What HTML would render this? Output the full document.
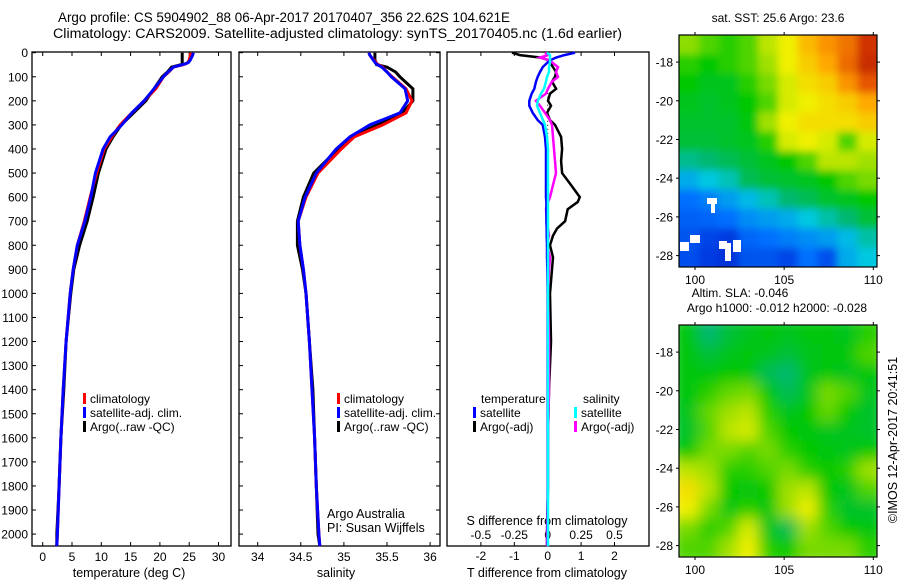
<!DOCTYPE html>
<html><head><meta charset="utf-8"><style>
html,body{margin:0;padding:0;background:#fff;}
svg{display:block;font-family:"Liberation Sans",sans-serif;}
text{fill:#000;}
</style></head><body>
<svg id="fig" width="900" height="580" viewBox="0 0 900 580">
<defs>
<filter id="blur" x="0" y="0" width="1" height="1"><feGaussianBlur stdDeviation="7"/></filter>
<filter id="blur1" x="0" y="0" width="1" height="1"><feGaussianBlur stdDeviation="4"/></filter>
<clipPath id="clipM2"><rect x="679" y="325" width="198" height="232"/></clipPath>
<clipPath id="clipM1"><rect x="679" y="35" width="198" height="232"/></clipPath>
</defs>
<g>
<text x="58" y="22" font-size="13.5" textLength="452" lengthAdjust="spacingAndGlyphs">Argo profile: CS 5904902_88 06-Apr-2017 20170407_356 22.62S 104.621E</text>
<text x="53" y="38" font-size="13.5" textLength="569" lengthAdjust="spacingAndGlyphs">Climatology: CARS2009. Satellite-adjusted climatology: synTS_20170405.nc (1.6d earlier)</text>
</g>
<g id="p1"></g>
<g id="p2"></g>
<g id="p3"></g>
<g id="m1"></g>
<g id="m2"></g>
<text x="0" y="0" font-size="12.5" transform="translate(897,440) rotate(-90)" text-anchor="middle">©IMOS 12-Apr-2017 20:41:51</text>
</svg>
<script>
// ---- data ----
const depths = [0,10,20,30,40,45,50,60,80,100,150,200,250,300,350,400,500,600,700,800,900,1000,1200,1400,1600,1800,2000,2050];
const tempClim = [25.2,25.2,25.1,25.0,24.8,24.5,24.0,22.3,21.5,20.6,19.3,17.3,15.2,13.2,11.8,10.5,9.2,8.1,7.1,5.9,5.2,4.7,4.0,3.5,3.1,2.8,2.5,2.4];
const tempSat = [25.7,25.6,25.4,25.2,24.9,24.5,23.8,22.3,21.4,20.6,19.0,17.3,15.2,13.5,11.5,10.3,9.0,8.2,7.2,5.9,5.2,4.7,4.0,3.5,3.1,2.8,2.5,2.4];
const tempArgo = [23.8,23.8,23.8,23.8,23.8,23.8,23.6,22.0,21.3,20.4,19.0,17.6,15.5,13.4,12.0,10.8,9.5,8.6,7.6,6.3,5.3,4.8,4.0,3.6,3.1,2.8,2.4,2.4];
const salClim = [35.29,35.3,35.32,35.35,35.37,35.38,35.4,35.45,35.5,35.56,35.72,35.79,35.72,35.45,35.12,34.97,34.7,34.56,34.47,34.49,34.53,34.56,34.6,34.63,34.66,34.68,34.71,34.72];
const salSat = [35.29,35.3,35.32,35.34,35.36,35.37,35.39,35.44,35.5,35.55,35.71,35.74,35.65,35.3,35.07,34.91,34.68,34.55,34.47,34.49,34.53,34.56,34.6,34.63,34.66,34.68,34.71,34.72];
const salArgo = [35.36,35.36,35.36,35.36,35.37,35.38,35.38,35.5,35.6,35.65,35.8,35.8,35.68,35.38,35.1,34.93,34.65,34.53,34.46,34.46,34.52,34.56,34.6,34.64,34.66,34.68,34.7,34.72];
const diffDepths = [0,10,20,30,40,60,80,100,120,150,170,200,220,250,280,300,350,400,450,500,550,600,620,650,700,730,760,800,850,900,1000,1200,1400,1600,1800,2000,2050];
const tDiffSat = [0.82,0.5,0.25,0.1,0.0,-0.15,-0.23,-0.3,-0.35,-0.4,-0.48,-0.55,-0.55,-0.45,-0.3,-0.15,-0.08,-0.05,-0.05,-0.05,-0.05,-0.05,-0.04,-0.04,-0.04,-0.03,-0.03,-0.02,-0.02,-0.01,0,0,0,0,0,0,0];
const tDiffArgo = [-1.07,-0.83,-0.23,0.01,0.07,0.16,0.25,0.22,0.13,0.25,0.07,0.01,0.1,-0.02,0.07,0.22,0.4,0.43,0.4,0.43,0.7,0.96,0.9,0.6,0.52,0.28,0.16,0.07,0.16,0.13,0.07,0.1,0.04,0.01,0.01,-0.02,-0.02];
const sDiffSat = [-0.005,0.017,0.017,0.017,0.017,0.01,0.01,-0.005,-0.013,-0.028,-0.05,-0.073,-0.08,-0.058,-0.035,-0.02,-0.005,0.002,0.002,0.002,0.002,0.002,0.002,0.002,0.002,0.002,0.002,0.002,0.002,0.002,0.002,0.002,0.002,0.002,0.002,0.002,0.002];
const sDiffArgo = [-0.02,0.002,-0.058,0.002,0.032,0.077,0.062,0.077,0.032,0.002,-0.013,-0.088,-0.058,-0.02,0.017,0.032,0.04,0.047,0.055,0.062,0.04,0.017,0.002,-0.013,-0.005,0.002,0.01,-0.005,0.017,0.01,0.002,0.01,0.01,0.002,0.002,-0.005,-0.005];
const depthTicks = [0,100,200,300,400,500,600,700,800,900,1000,1100,1200,1300,1400,1500,1600,1700,1800,1900,2000];
const tempTicks = [0,5,10,15,20,25,30];
const salTicks = [34,34.5,35,35.5,36];
const salTickLabels = ["34","34.5","35","35.5","36"];
const tDiffTicks = [-2,-1,0,1,2];
const sDiffTicks = [-0.5,-0.25,0,0.25,0.5];
const sDiffTickLabels = ["-0.5","-0.25","0","0.25","0.5"];
const mapLonTicks = [100,105,110];
const mapLatTicks = [-18,-20,-22,-24,-26,-28];
const sstGrid = [
[0.65,0.62,0.6,0.62,0.68,0.72,0.78,0.82,0.85,0.92],
[0.6,0.58,0.6,0.62,0.66,0.72,0.76,0.8,0.86,0.93],
[0.58,0.56,0.56,0.6,0.64,0.7,0.74,0.76,0.82,0.88],
[0.56,0.55,0.56,0.58,0.62,0.7,0.72,0.74,0.76,0.8],
[0.55,0.55,0.55,0.57,0.66,0.72,0.74,0.74,0.74,0.76],
[0.54,0.54,0.55,0.56,0.6,0.7,0.72,0.7,0.62,0.7],
[0.48,0.5,0.52,0.54,0.56,0.58,0.62,0.68,0.68,0.66],
[0.38,0.42,0.45,0.52,0.54,0.55,0.56,0.58,0.62,0.64],
[0.3,0.32,0.36,0.4,0.45,0.5,0.52,0.55,0.56,0.58],
[0.27,0.28,0.3,0.34,0.36,0.38,0.42,0.46,0.5,0.54],
[0.25,0.22,0.2,0.28,0.3,0.32,0.34,0.36,0.4,0.46],
[0.24,0.2,0.18,0.25,0.25,0.22,0.3,0.24,0.38,0.42]];
const slaGrid = [
[0.57,0.5,0.54,0.56,0.57,0.56,0.57,0.57,0.56,0.6],
[0.57,0.54,0.56,0.57,0.56,0.54,0.56,0.57,0.57,0.62],
[0.57,0.57,0.58,0.57,0.52,0.5,0.56,0.57,0.56,0.57],
[0.57,0.6,0.63,0.64,0.58,0.52,0.56,0.64,0.62,0.56],
[0.56,0.63,0.66,0.68,0.6,0.56,0.58,0.63,0.58,0.55],
[0.55,0.62,0.68,0.7,0.62,0.58,0.57,0.56,0.56,0.55],
[0.58,0.64,0.64,0.62,0.64,0.6,0.58,0.57,0.56,0.58],
[0.68,0.66,0.6,0.6,0.62,0.64,0.6,0.58,0.6,0.66],
[0.74,0.68,0.58,0.57,0.58,0.66,0.68,0.58,0.56,0.62],
[0.72,0.64,0.57,0.6,0.57,0.66,0.72,0.6,0.55,0.55],
[0.64,0.6,0.62,0.7,0.56,0.52,0.66,0.62,0.58,0.57],
[0.62,0.62,0.66,0.72,0.6,0.58,0.64,0.64,0.64,0.6]];

const NS='http://www.w3.org/2000/svg';
function mk(parent,tag,attrs,txt){const e=document.createElementNS(NS,tag);for(const k in attrs)e.setAttribute(k,attrs[k]);if(txt!==undefined)e.textContent=txt;parent.appendChild(e);return e;}
const yD = d => 52.7 + d*0.2407;
const TOP=52, BOT=546;

function axesBox(g,x0,x1){
  const r=mk(g,'rect',{x:x0,y:TOP,width:x1-x0,height:BOT-TOP,fill:'none',stroke:'#000','stroke-width':1.3});
  
  
}
function line(g,xs,ds,xf,color,w,name){
  const pts=xs.map((v,i)=>xf(v).toFixed(1)+','+yD(ds[i]).toFixed(1)).join(' ');
  const p=mk(g,'polyline',{points:pts,fill:'none',stroke:color,'stroke-width':w,'stroke-linejoin':'miter'});
  
  
}
function legend(g,x,y,items){
  items.forEach((it,i)=>{
    const r=mk(g,'rect',{x:x,y:y+i*14-6,width:3,height:11,fill:it[1]});
    
    
    const t=mk(g,'text',{x:x+7,y:y+i*14+4,'font-size':12},it[0]);
    
    
  });
}

// Panel 1: temperature
const p1=document.getElementById('p1');
const xT = v => 42.7 + v*5.86;
axesBox(p1,32,231);
depthTicks.forEach(d=>{
  const y=yD(d);
  mk(p1,'line',{x1:32,x2:36,y1:y,y2:y,stroke:'#000'});
  mk(p1,'line',{x1:440,x2:436,y1:y,y2:y,stroke:'#000'});
  const t=mk(p1,'text',{x:28,y:y+4.5,'font-size':12,'text-anchor':'end'},String(d));
  
  
});
tempTicks.forEach(v=>{
  const x=xT(v);
  mk(p1,'line',{x1:x,x2:x,y1:BOT,y2:BOT-4,stroke:'#000'});
  mk(p1,'line',{x1:x,x2:x,y1:TOP,y2:TOP+4,stroke:'#000'});
  const t=mk(p1,'text',{x:x,y:561,'font-size':12,'text-anchor':'middle'},String(v));
  
  
});
const xl1=mk(p1,'text',{x:129,y:577,'font-size':12.5,'text-anchor':'middle'},'temperature (deg C)');


line(p1,tempArgo,depths,xT,'#000',3,'temperature-argo-line');
line(p1,tempClim,depths,xT,'#f00',3,'temperature-climatology-line');
line(p1,tempSat,depths,xT,'#00f',3,'temperature-satellite-line');
legend(p1,83,399,[['climatology','#f00'],['satellite-adj. clim.','#00f'],['Argo(..raw -QC)','#000']]);

// Panel 2: salinity
const p2=document.getElementById('p2');
const xS = v => 257.7 + (v-34)*86.2;
axesBox(p2,239,440);
depthTicks.forEach(d=>{const y=yD(d);mk(p2,'line',{x1:239,x2:243,y1:y,y2:y,stroke:'#000'});});
salTicks.forEach((v,i)=>{
  const x=xS(v);
  mk(p2,'line',{x1:x,x2:x,y1:BOT,y2:BOT-4,stroke:'#000'});
  mk(p2,'line',{x1:x,x2:x,y1:TOP,y2:TOP+4,stroke:'#000'});
  const t=mk(p2,'text',{x:x,y:561,'font-size':12,'text-anchor':'middle'},salTickLabels[i]);
  
  
});
const xl2=mk(p2,'text',{x:336,y:577,'font-size':12.5,'text-anchor':'middle'},'salinity');


line(p2,salArgo,depths,xS,'#000',3,'salinity-argo-line');
line(p2,salClim,depths,xS,'#f00',3,'salinity-climatology-line');
line(p2,salSat,depths,xS,'#00f',3,'salinity-satellite-line');
legend(p2,337,399,[['climatology','#f00'],['satellite-adj. clim.','#00f'],['Argo(..raw -QC)','#000']]);
const pi1=mk(p2,'text',{x:327,y:518,'font-size':12.5},'Argo Australia');


const pi2=mk(p2,'text',{x:327,y:532,'font-size':12.5},'PI: Susan Wijffels');



// Panel 3: differences
const p3=document.getElementById('p3');
const xTd = v => 547.7 + v*33.4;
const xSd = v => 547.7 + v*133.6;
axesBox(p3,447,649);
tDiffTicks.forEach(v=>{
  const x=xTd(v);
  mk(p3,'line',{x1:x,x2:x,y1:BOT,y2:BOT-4,stroke:'#000'});
  mk(p3,'line',{x1:x,x2:x,y1:TOP,y2:TOP+4,stroke:'#000'});
  const t=mk(p3,'text',{x:x,y:560,'font-size':12,'text-anchor':'middle'},String(v));
  
  
});
sDiffTicks.forEach((v,i)=>{
  const t=mk(p3,'text',{x:xSd(v),y:539,'font-size':12,'text-anchor':'middle'},sDiffTickLabels[i]);
  
  
});
const st=mk(p3,'text',{x:547,y:525,'font-size':12.5,'text-anchor':'middle'},'S difference from climatology');


const tt=mk(p3,'text',{x:547,y:577,'font-size':12.5,'text-anchor':'middle'},'T difference from climatology');


mk(p3,'line',{x1:xTd(0),x2:xTd(0),y1:yD(150),y2:yD(520),stroke:'#000','stroke-dasharray':'1,3','stroke-width':1});
line(p3,tDiffArgo,diffDepths,xTd,'#000',2.5,'t-diff-argo-line');
line(p3,sDiffArgo,diffDepths,xSd,'#f0f',2.5,'s-diff-argo-line');
line(p3,tDiffSat,diffDepths,xTd,'#00f',2.5,'t-diff-satellite-line');
line(p3,sDiffSat,diffDepths,xSd,'#0ff',2.5,'s-diff-satellite-line');
const lt=mk(p3,'text',{x:481,y:403,'font-size':12},'temperature');


const ls=mk(p3,'text',{x:583,y:403,'font-size':12},'salinity');


legend(p3,473,413,[['satellite','#00f'],['Argo(-adj)','#000']]);
legend(p3,574,413,[['satellite','#0ff'],['Argo(-adj)','#f0f']]);

// Maps
const stops=[[0,[0,0,143]],[0.15,[0,32,208]],[0.3,[0,112,255]],[0.42,[0,200,224]],[0.5,[0,184,112]],[0.58,[0,200,0]],[0.66,[160,224,0]],[0.72,[240,240,0]],[0.8,[255,168,0]],[0.9,[224,64,0]],[1,[144,0,0]]];
function cmap(v){
  for(let i=1;i<stops.length;i++){ if(v<=stops[i][0]){const a=stops[i-1],b=stops[i],f=(v-a[0])/(b[0]-a[0]);
    return 'rgb('+a[1].map((c,k)=>Math.round(c+(b[1][k]-c)*f)).join(',')+')';}}
  return 'rgb(144,0,0)';
}
const MX0=679, MX1=877;
const xLon = lon => 695 + (lon-100)*17.83;
function drawMap(g,grid,y0,title,filt,clip){
  const h=232, ncol=grid[0].length, nrow=grid.length;
  const cw=(MX1-MX0)/ncol, ch=h/nrow;
  const cg=mk(g,'g',{'clip-path':'url(#'+clip+')'});
  const inner=mk(cg,'g',{filter:'url(#'+filt+')'});
  const pad=8;
  grid.forEach((row,r)=>row.forEach((v,c)=>{
    const cx=MX0+c*cw-(c===0?pad:0), cy=y0+r*ch-(r===0?pad:0);
    const w=cw+0.5+(c===0||c===ncol-1?pad:0), hh=ch+0.5+(r===0||r===nrow-1?pad:0);
    const cell=mk(inner,'rect',{x:cx,y:cy,width:w,height:hh,fill:cmap(v)});
    
    
  }));
  const fr=mk(g,'rect',{x:MX0,y:y0,width:MX1-MX0,height:h,fill:'none',stroke:'#000','stroke-width':1.2});
  
  
  const yLat = lat => y0 + (-16.6-lat)*19.35;
  mapLatTicks.forEach(lat=>{
    const y=yLat(lat);
    mk(g,'line',{x1:MX0,x2:MX0-3,y1:y,y2:y,stroke:'#000'});
    mk(g,'line',{x1:MX1,x2:MX1+3,y1:y,y2:y,stroke:'#000'});
    const t=mk(g,'text',{x:673,y:y+4.5,'font-size':12,'text-anchor':'end'},String(lat));
    
    
  });
  mapLonTicks.forEach(lon=>{
    const x=xLon(lon);
    mk(g,'line',{x1:x,x2:x,y1:y0,y2:y0-3,stroke:'#000'});
    mk(g,'line',{x1:x,x2:x,y1:y0+h,y2:y0+h+3,stroke:'#000'});
    const t=mk(g,'text',{x:x,y:y0+h+17,'font-size':12,'text-anchor':'middle'},String(lon));
    
    
  });
  title.forEach((s,i)=>{
    const t=mk(g,'text',{x:s[1],y:y0-13-(title.length-1-i)*15,'font-size':12,'text-anchor':'middle'},s[0]);
    
    
  });
}
drawMap(document.getElementById('m1'),sstGrid,35,[['sat. SST: 25.6 Argo: 23.6',778]],'blur1','clipM1');
drawMap(document.getElementById('m2'),slaGrid,325,[['Altim. SLA: -0.046',740],['Argo h1000: -0.012 h2000: -0.028',777]],'blur','clipM2');
// white no-data patches on SST map
const m1=document.getElementById('m1');
[[707,198,10,6],[711,203,4,10],[680,242,9,9],[690,235,10,8],[719,241,8,8],[725,243,6,18],[733,240,8,12]].forEach(p=>{
  const r=mk(m1,'rect',{x:p[0],y:p[1],width:p[2],height:p[3],fill:'#fff'});
  
  
});
</script>
</body></html>
